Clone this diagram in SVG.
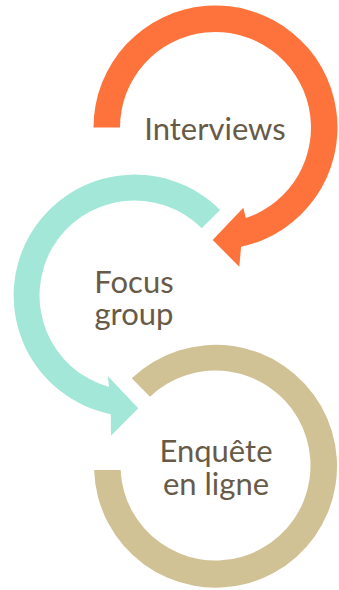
<svg xmlns="http://www.w3.org/2000/svg" width="339" height="590" viewBox="0 0 339 590">
<style>
.lbl{font-family:Lato,"Open Sans","DejaVu Sans",sans-serif;font-size:31px;fill:#675B48;text-anchor:middle}
</style>
<rect width="339" height="590" fill="#ffffff"/>
<g id="connectors">
<path id="arrow-orange" fill="#FD733B" d="M 93.5 127.5 A 122 122 0 1 1 241.1 246.8 L 239.3 266.7 L 212.7 240 L 243.3 207.7 L 245.8 218.1 A 95.5 95.5 0 1 0 120 127.5 Z"/>
<path id="arrow-teal" fill="#A3E7D8" d="M 220.1 209.9 A 121 121 0 1 0 110.8 414.2 L 111 435.7 L 138.3 408.3 L 107.7 376 L 109.1 387 A 95 95 0 1 1 201.7 228.3 Z"/>
<path id="ring-tan" fill="#D1C296" d="M 94.1 470 A 121.5 121.5 0 1 0 131.7 378.3 L 150 396.7 A 95 95 0 1 1 120.6 470 Z"/>
</g>
<g id="node-interviews"><text class="lbl" x="215" y="140">Interviews</text></g>
<g id="node-focus"><text class="lbl" x="134" y="293">Focus</text><text class="lbl" x="134" y="325">group</text></g>
<g id="node-enquete"><text class="lbl" x="216" y="462">Enquête</text><text class="lbl" x="216" y="495">en ligne</text></g>
</svg>
